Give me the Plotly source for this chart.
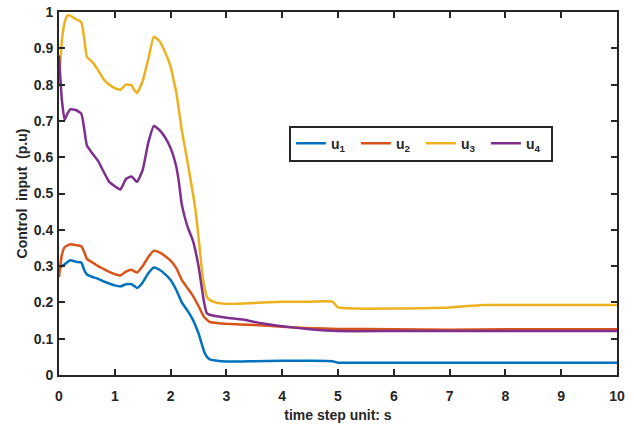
import plotly.graph_objects as go

# u1 (blue)
x1 = [0, 0.05, 0.1, 0.2, 0.3, 0.4, 0.45, 0.5, 0.6, 0.7, 0.8, 0.9, 1.0, 1.1, 1.2, 1.3, 1.4, 1.5, 1.6, 1.7,
      1.8, 1.9, 2.0, 2.1, 2.2, 2.3, 2.4, 2.5, 2.55, 2.6, 2.65, 2.7, 2.8, 3.0, 3.5, 4.0, 4.5, 4.9, 5.0,
      6, 7, 8, 9, 10]
u1 = [0.29, 0.30, 0.305, 0.316, 0.312, 0.31, 0.29, 0.277, 0.27, 0.265, 0.258, 0.252, 0.247, 0.244, 0.25,
      0.25, 0.24, 0.255, 0.28, 0.296, 0.29, 0.278, 0.262, 0.235, 0.2, 0.178, 0.152, 0.115, 0.09, 0.065,
      0.05, 0.043, 0.04, 0.037, 0.038, 0.039, 0.039, 0.038, 0.034, 0.034, 0.034, 0.034, 0.034, 0.034]

# u2 (orange)
x2 = [0, 0.05, 0.1, 0.2, 0.3, 0.4, 0.45, 0.5, 0.6, 0.7, 0.8, 0.9, 1.0, 1.1, 1.2, 1.3, 1.4, 1.5, 1.6, 1.7,
      1.8, 1.9, 2.0, 2.1, 2.2, 2.3, 2.4, 2.5, 2.6, 2.7, 2.8, 3.0, 3.5, 4.0, 4.5, 5.0, 6, 7, 8, 9, 10]
u2 = [0.27, 0.33, 0.352, 0.36, 0.358, 0.355, 0.34, 0.32, 0.31, 0.30, 0.292, 0.284, 0.278, 0.274, 0.285,
      0.29, 0.282, 0.3, 0.325, 0.342, 0.338, 0.328, 0.315, 0.295, 0.262, 0.24, 0.218, 0.19, 0.16, 0.146,
      0.144, 0.141, 0.138, 0.133, 0.129, 0.127, 0.126, 0.125, 0.126, 0.126, 0.126]

# u3 (yellow)
x3 = [0, 0.05, 0.1, 0.15, 0.2, 0.3, 0.4, 0.45, 0.5, 0.6, 0.7, 0.8, 0.9, 1.0, 1.1, 1.2, 1.3, 1.35, 1.4,
      1.5, 1.6, 1.7, 1.8, 1.9, 2.0, 2.05, 2.1, 2.2, 2.3, 2.4, 2.45, 2.5, 2.58, 2.65, 2.7, 2.8, 3.0, 3.3,
      4.0, 4.5, 4.9, 5.0, 5.3, 6.0, 6.5, 7.0, 7.6, 8, 9, 10]
u3 = [0.80, 0.92, 0.97, 0.99, 0.99, 0.98, 0.972, 0.93, 0.876, 0.862, 0.84, 0.815, 0.80, 0.79, 0.786,
      0.80, 0.798, 0.785, 0.777, 0.81, 0.87, 0.932, 0.92, 0.89, 0.85, 0.815, 0.78, 0.675, 0.59, 0.5,
      0.45, 0.38, 0.265, 0.215, 0.207, 0.2, 0.196, 0.197, 0.202, 0.202, 0.202, 0.186, 0.183, 0.183,
      0.184, 0.186, 0.193, 0.193, 0.193, 0.193]

# u4 (purple)
x4 = [0, 0.05, 0.1, 0.15, 0.2, 0.3, 0.4, 0.45, 0.5, 0.6, 0.7, 0.8, 0.9, 1.0, 1.1, 1.2, 1.3, 1.4, 1.5,
      1.6, 1.7, 1.8, 1.9, 2.0, 2.1, 2.15, 2.2, 2.3, 2.4, 2.5, 2.6, 2.65, 2.7, 3.0, 3.3, 3.6, 4.0, 4.5,
      5.0, 6, 7, 8, 9, 10]
u4 = [0.88, 0.76, 0.703, 0.72, 0.732, 0.73, 0.72, 0.68, 0.632, 0.61, 0.59, 0.56, 0.532, 0.52, 0.511,
      0.54, 0.547, 0.532, 0.565, 0.64, 0.686, 0.675, 0.655, 0.625, 0.575, 0.53, 0.47, 0.41, 0.37, 0.3,
      0.2, 0.17, 0.166, 0.158, 0.153, 0.143, 0.134, 0.126, 0.121, 0.121, 0.121, 0.121, 0.121, 0.121]

series = [
    (x1, u1, "u<sub>1</sub>", "#0072BD"),
    (x2, u2, "u<sub>2</sub>", "#D95319"),
    (x3, u3, "u<sub>3</sub>", "#EDB120"),
    (x4, u4, "u<sub>4</sub>", "#7E2F8E"),
]

FONT = "Liberation Sans, Arial, sans-serif"

fig = go.Figure()
for xs, ys, name, color in series:
    fig.add_trace(go.Scatter(x=xs, y=ys, name=name, mode="lines",
                             line=dict(color=color, width=2.5, shape="spline", smoothing=0.4)))

axis_common = dict(
    showline=True, linecolor="#262626", linewidth=2, mirror="ticks",
    ticks="inside", ticklen=6, tickwidth=2, tickcolor="#262626",
    showgrid=False, zeroline=False, automargin=False,
    tickfont=dict(family=FONT, size=14, color="#262626", weight="bold"),
)

fig.update_layout(
    width=634, height=424,
    margin=dict(l=59, r=17, t=12, b=49),
    paper_bgcolor="white", plot_bgcolor="white",
    font=dict(family=FONT, color="#262626"),
    xaxis=dict(range=[0, 10], dtick=1, tick0=0, ticklabelstandoff=7,
               title=dict(text="time step unit: s", standoff=7,
                          font=dict(family=FONT, size=14, weight="bold", color="#262626")),
               **axis_common),
    yaxis=dict(range=[0, 1], dtick=0.1, tick0=0, ticklabelstandoff=1,
               title=dict(text="Control  input  (p.u)", standoff=3,
                          font=dict(family=FONT, size=14, weight="bold", color="#262626")),
               **axis_common),
    legend=dict(orientation="h", x=0.412, y=0.687, xanchor="left", yanchor="top",
                entrywidth=20, entrywidthmode="pixels",
                bgcolor="white", bordercolor="#262626", borderwidth=2,
                font=dict(family=FONT, size=14, weight="bold", color="#262626")),
    showlegend=True,
)

fig.write_html("out.html")
